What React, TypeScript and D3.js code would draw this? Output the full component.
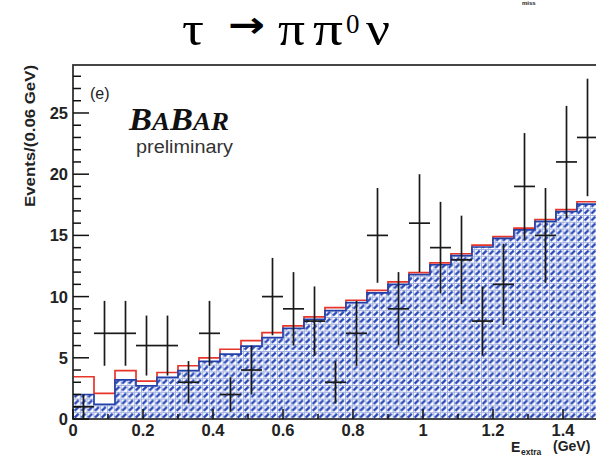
import React from "react";
import * as d3 from "d3";

const binEdges = [0, 0.06, 0.12, 0.18, 0.24, 0.3, 0.36, 0.42, 0.48, 0.54, 0.6, 0.66, 0.72, 0.78, 0.84, 0.9, 0.96, 1.02, 1.08, 1.14, 1.2, 1.26, 1.32, 1.38, 1.44, 1.5];
const blueMC = [2.0, 1.2, 3.2, 2.7, 3.4, 3.95, 4.7, 5.3, 5.95, 6.65, 7.4, 8.15, 8.85, 9.5, 10.3, 11.0, 11.8, 12.6, 13.35, 14.05, 14.75, 15.45, 16.15, 16.95, 17.55];
const redTotal = [3.45, 2.1, 3.95, 3.1, 3.8, 4.35, 5.0, 5.7, 6.4, 7.05, 7.6, 8.35, 9.1, 9.7, 10.5, 11.2, 11.95, 12.75, 13.5, 14.2, 14.9, 15.6, 16.3, 17.1, 17.75];
const dataCounts = [1, 7, 7, 6, 6, 3, 7, 2, 4, 10, 9, 8, 3, 7, 15, 9, 16, 14, 13, 8, 11, 19, 15, 21, 23];
const dataErrors = [1, 2.65, 2.65, 2.45, 2.45, 1.73, 2.65, 1.41, 2, 3.16, 3, 2.83, 1.73, 2.65, 3.87, 3, 4, 3.74, 3.61, 2.83, 3.32, 4.36, 3.87, 4.58, 4.8];
const yMajorTicks = [0, 5, 10, 15, 20, 25];
const xMajorTicks = [0, 0.2, 0.4, 0.6, 0.8, 1, 1.2, 1.4];

const W = 596, H = 456;
const L = 73, R = 598, T = 65, B = 419;

export default function App() {
  const x = d3.scaleLinear().domain([0, 1.5]).range([L, R]);
  const y = d3.scaleLinear().domain([0, 28.92]).range([B, T]);

  const stepPts = (vals: number[]) => {
    const pts: [number, number][] = vals.map((v, i) => [binEdges[i], v]);
    pts.push([binEdges[binEdges.length - 1], vals[vals.length - 1]]);
    return pts;
  };

  const line = d3.line<[number, number]>().x(d => x(d[0])).y(d => y(d[1])).curve(d3.curveStepAfter);
  const area = d3.area<[number, number]>().x(d => x(d[0])).y0(y(0)).y1(d => y(d[1])).curve(d3.curveStepAfter);

  const bluePts = stepPts(blueMC);
  const redPts = stepPts(redTotal);

  const yMinor = d3.range(0, 29, 1);
  const xMinor = d3.range(0, 1.51, 0.1);

  const fmtX = (v: number) => (v === 0 ? "0" : v === 1 ? "1" : v.toFixed(1));
  const tickFont = "'Liberation Sans', Arial, sans-serif";
  const serif = "'Liberation Serif', 'Times New Roman', serif";

  return (
    <svg width={W} height={H} style={{ position: "absolute", left: 0, top: 0, background: "#fff" }}>
      <defs>
        <pattern id="hatch" patternUnits="userSpaceOnUse" width="6.8" height="6.8" x={L} y={B}>
          <rect width="6.8" height="6.8" fill="#ffffff" />
          <line x1="0" y1="0.5" x2="6.8" y2="0.5" stroke="#a4b3e3" strokeWidth="1" />
          <line x1="0.5" y1="0" x2="0.5" y2="6.8" stroke="#a4b3e3" strokeWidth="1" />
          <line x1="1.6" y1="5.4" x2="5.6" y2="1.6" stroke="#2847b8" strokeWidth="2.4" />
        </pattern>
      </defs>

      {/* Title */}
      <g fontFamily={serif} fill="#000">
        <text x={182} y={45} fontSize={48} textLength={22} lengthAdjust="spacingAndGlyphs">τ</text>
        <text x={228} y={37} fontSize={36} fontWeight="bold" fontFamily="'DejaVu Sans', sans-serif" textLength={37} lengthAdjust="spacingAndGlyphs">→</text>
        <text x={278} y={45} fontSize={48} textLength={27} lengthAdjust="spacingAndGlyphs">π</text>
        <text x={313} y={45} fontSize={48} textLength={30} lengthAdjust="spacingAndGlyphs">π</text>
        <text x={346} y={33} fontSize={27}>0</text>
        <text x={366} y={45} fontSize={48} textLength={24} lengthAdjust="spacingAndGlyphs">ν</text>
      </g>
      <text x={522} y={5} fontSize={6} fontWeight="bold" fontFamily={tickFont} fill="#222">miss</text>

      {/* Histograms */}
      <path d={line(redPts) || ""} fill="none" stroke="#e8352a" strokeWidth={1.7} />
      <path d={area(bluePts) || ""} fill="url(#hatch)" />
      <path d={line(bluePts) || ""} fill="none" stroke="#2340a8" strokeWidth={1.7} />

      {/* Data points */}
      <g stroke="#1a1a1a" strokeWidth={1.7}>
        {dataCounts.map((n, i) => {
          const cx = x((binEdges[i] + binEdges[i + 1]) / 2);
          return (
            <g key={i}>
              <line x1={x(binEdges[i])} x2={x(binEdges[i + 1])} y1={y(n)} y2={y(n)} />
              <line x1={cx} x2={cx} y1={y(Math.max(0, n - dataErrors[i]))} y2={y(n + dataErrors[i])} />
            </g>
          );
        })}
      </g>

      {/* Frame */}
      <rect x={L} y={T} width={R - L} height={B - T} fill="none" stroke="#333" strokeWidth={1.8} />

      {/* Ticks */}
      <g stroke="#111" strokeWidth={1.5}>
        {yMinor.map(v => (
          <line key={"ym" + v} x1={L} x2={L + (v % 5 === 0 ? 16 : 8)} y1={y(v)} y2={y(v)} />
        ))}
        {xMinor.map(v => {
          const major = Math.abs(Math.round(v * 10) % 2) === 0;
          return <line key={"xm" + v} x1={x(v)} x2={x(v)} y1={B} y2={B - (major ? 10 : 5)} />;
        })}
      </g>

      <g fontFamily={tickFont} fontWeight="bold" fontSize={16.5} fill="#222">
        {yMajorTicks.map(v => (
          <text key={"yl" + v} x={L - 5} y={y(v) + 6} textAnchor="end">{v}</text>
        ))}
        {xMajorTicks.map(v => (
          <text key={"xl" + v} x={x(v)} y={B + 17} textAnchor="middle">{fmtX(v)}</text>
        ))}
      </g>

      {/* Axis titles */}
      <text transform="translate(35,136) rotate(-90)" textAnchor="middle" fontFamily={tickFont} fontWeight="bold" fontSize={14} textLength={142} lengthAdjust="spacingAndGlyphs" fill="#222">Events/(0.06 GeV)</text>
      <g fontFamily={tickFont} fontWeight="bold" fill="#222">
        <text x={511} y={452} fontSize={14}>E</text>
        <text x={521} y={455} fontSize={8.5}>extra</text>
        <text x={553} y={451} fontSize={14}>(GeV)</text>
      </g>

      {/* Labels */}
      <text x={90} y={99} fontFamily={tickFont} fontSize={16} fill="#222">(e)</text>
      <text x={129} y={130} fontFamily={serif} fontStyle="italic" fontWeight="bold" fill="#111" textLength={100} lengthAdjust="spacingAndGlyphs">
        <tspan fontSize={32}>B</tspan><tspan fontSize={25}>A</tspan><tspan fontSize={32}>B</tspan><tspan fontSize={25}>AR</tspan>
      </text>
      <text x={136} y={153} fontFamily={tickFont} fontSize={18} fill="#333" textLength={97} lengthAdjust="spacingAndGlyphs">preliminary</text>
    </svg>
  );
}
